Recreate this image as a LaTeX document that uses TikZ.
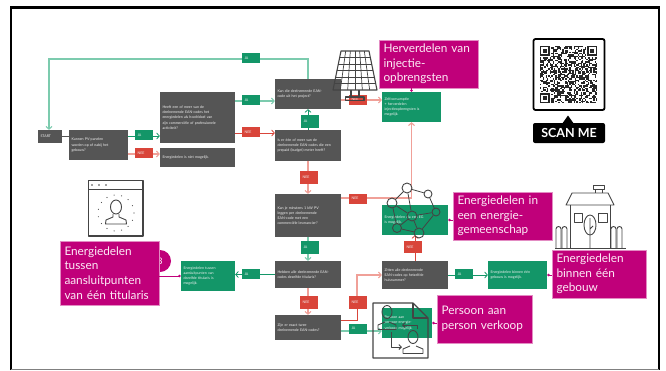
\documentclass[tikz,border=0pt]{standalone}
\usepackage{xcolor}
\usepackage{fontspec}
\setmainfont{Lato}
\usepackage{tikz}
\usetikzlibrary{
    shapes,
    shapes.geometric,
    positioning,
    calc,
    arrows.meta
}
\definecolor{boxgray}{HTML}{555555}
\definecolor{icongray}{HTML}{444444}
\definecolor{jagreen}{HTML}{139668}
\definecolor{jalight}{HTML}{7CCBAE}
\definecolor{neered}{HTML}{D9453A}
\definecolor{neelight}{HTML}{F0A098}
\definecolor{tagmagenta}{HTML}{C0007A}
\tikzset{
  basic/.style = {
      rectangle,
      text=white!90!gray,
      align=left,
      inner sep=2.5pt,
      font=\fontsize{3.6}{5.2}\selectfont
  },
  sized/.style 2 args = {
      text width={(#1-5)*1pt},
      minimum height=#2pt
  },
  question/.style = {
      basic,
      fill=boxgray
  },
  answer/.style = {
      basic,
      fill=jagreen
  },
  tagja/.style = {
      basic,
      fill=jagreen,
      sized={18}{10}
  },
  tagnee/.style = {
      basic,
      fill=neered,
      sized={18}{10}
  },
  callout/.style = {
      rectangle,
      fill=tagmagenta,
      draw=tagmagenta!45,
      line width=0.4pt,
      text=white!92!magenta,
      align=left,
      inner xsep=2.5pt,
      inner ysep=1pt,
      font=\fontsize{11.8}{14.7}\selectfont
  },
  edge/.style = {
      line width=0.8pt,
      -{Straight Barb[length=2.6pt,width=6pt]}
  },
  jaedge/.style = {edge, draw=jagreen},
  jasoft/.style = {edge, draw=jalight, line width=1.1pt},
  neeedge/.style = {edge, draw=neered},
  neesoft/.style = {edge, draw=neelight, line width=1.1pt},
  link/.style = {
      draw=tagmagenta,
      line width=0.9pt,
      -{Circle[length=2.6pt]}
  },
  icon/.style = {
      draw=icongray,
      line width=0.9pt,
      line join=round
  },
  hub/.style = {
      circle,
      draw=icongray,
      line width=0.9pt,
      inner sep=0pt
  }
}
\begin{document}
\begin{tikzpicture}[x=1pt,y=-1pt]
        \useasboundingbox (0,0) rectangle (666,370);
        % Frame
        \draw[black, line width=2.5pt] (11,370) -- (11,7.5) -- (659,7.5) -- (659,370);
        \draw[gray, line width=1pt] (11,369.5) -- (659,369.5);
        % Questions
        \node[question, sized={24}{13}] (start) at (50,136.5) {START};
        \node[question, sized={59}{30}] (panels) at (98.5,145) {Kunnen PV-panelen\\worden op of nabij het\\gebouw?};
        \node[question, sized={75}{51}] (purpose) at (197.5,117.5) {Heeft een of meer van de\\deelnemende EAN-codes het\\energiedelen als hoofddoel van\\zijn commerciële of professionele\\activiteit?};
        \node[question, sized={75}{19}] (nothing) at (197.5,157.5) {Energiedelen is niet mogelijk.};
        \node[question, sized={66}{30}] (project) at (308,94) {Kan die deelnemende EAN-\\code uit het project?};
        \node[question, sized={66}{31}, below of=project, node distance=51.5pt] (prepaid) {Is er één of meer van de\\deelnemende EAN-codes die een\\prepaid (budget) meter heeft?};
        \node[question, sized={66}{43}, below of=prepaid, node distance=70pt] (minimum) {Kan je minstens 1 kW PV\\leggen per deelnemende\\EAN-code met een\\commerciële leverancier?};
        \node[question, sized={66}{27}, below of=minimum, node distance=59pt] (holder) {Hebben alle deelnemende EAN-\\codes dezelfde titularis?};
        \node[question, sized={66}{25}, below of=holder, node distance=53pt] (two) {Zijn er exact twee\\deelnemende EAN-codes?};
        \node[question, sized={66}{28}] (house) at (415,275) {Zitten alle deelnemende\\EAN-codes op hetzelfde\\huisnummer?};
        % Answers
        \node[answer, sized={59}{30}] (selfuse) at (411.5,107) {Zelfconsumptie\\+ herverdelen\\injectieopbrengsten is\\mogelijk.};
        \node[answer, sized={66}{30}] (community) at (415,220) {Energiedelen via een EG\\is mogelijk.};
        \node[answer, sized={59}{28}] (building) at (517.5,275) {Energiedelen binnen één\\gebouw is mogelijk.};
        \node[answer, sized={54}{30}] (holderok) at (208,276) {Energiedelen tussen\\aansluitpunten van\\dezelfde titularis is\\mogelijk.};
        \node[answer, sized={50}{30}] (peer) at (407,323) {Persoon aan\\persoon-energie-\\verkoop mogelijk.};
        \coordinate (topbend) at (49,59);
        \coordinate (toptail) at (308,59);
        \coordinate (redbend) at (357,298);
        % Edges
        \draw[draw=boxgray, line width=0.8pt] (start.east) -- (start.east -| panels.west);
        \draw[jasoft] (toptail |- project.north) -- (toptail) -- (topbend) -- (topbend |- start.north);
        \draw[jaedge] ([yshift=9pt]panels.east) -- ([yshift=9pt]panels.east -| purpose.west);
        \draw[neesoft] ([yshift=-9pt]panels.east) -- ([yshift=-9pt]panels.east -| nothing.west);
        \draw[jasoft] ([yshift=16.5pt]purpose.east) -- ([yshift=16.5pt]purpose.east -| project.west);
        \draw[neeedge] ([yshift=-15.5pt]purpose.east) -- ([yshift=-15.5pt]purpose.east -| prepaid.west);
        \draw[jaedge] (prepaid.north) -- (project.south);
        \draw[neesoft] (prepaid.south) -- (minimum.north);
        \draw[neesoft] ([yshift=-6pt]project.east) -- ([yshift=-6pt]project.east -| selfuse.west);
        \draw[neesoft] ([yshift=17.5pt]minimum.east) -| (selfuse.south);
        \draw[jasoft] (minimum.south) -- (holder.north);
        \draw[jaedge] (holder.west) -- (holder.west -| holderok.east);
        \draw[neesoft] (holder.south) -- (two.north);
        \draw[neeedge] ([yshift=7.5pt]two.east) -| (redbend);
        \draw[neesoft] (redbend) |- (house.west);
        \draw[jasoft] ([yshift=-3.5pt]two.east) -- ([yshift=-3.5pt]two.east -| peer.west);
        \draw[neeedge] (house.north) -- (community.south);
        \draw[jaedge] (house.east) -- (house.east -| building.west);
        % Tags
        \node[tagja] (jatop) at (251,58) {JA};
        \node[tagja] (jaone) at (144,135) {JA};
        \node[tagnee] (neeone) at (144,153) {NEE};
        \node[tagja] (jatwo) at (251,100) {JA};
        \node[tagnee] (neetwo) at (251,132) {NEE};
        \node[tagja, minimum height=13pt] (jathree) at (310,121.5) {JA};
        \node[tagnee, minimum height=13pt] (neethree) at (309,177.5) {NEE};
        \node[tagnee] (neefour) at (358,99.5) {NEE};
        \node[tagnee] (neefive) at (358,198.5) {NEE};
        \node[tagja, minimum height=13pt] (jafour) at (310,247.5) {JA};
        \node[tagnee, minimum height=12pt] (neesix) at (413,247) {NEE};
        \node[tagja] (jafive) at (464,274) {JA};
        \node[tagja] (jasix) at (251,274) {JA};
        \node[tagnee, minimum height=13pt] (neeseven) at (309,302.5) {NEE};
        \node[tagnee, minimum height=13pt] (neeeight) at (358,302.5) {NEE};
        \node[tagja] (jaseven) at (358,328.5) {JA};
        % Solar panel
        \coordinate (sa) at (341,51);
        \coordinate (sb) at (369,51);
        \coordinate (sc) at (333,90);
        \coordinate (sd) at (377,90);
        \foreach \i in {1,...,5} {
            \draw[icon, line width=0.7pt] ($(sa)!\i/6!(sb)$) -- ($(sc)!\i/6!(sd)$);
            \draw[icon, line width=0.7pt] ($(sa)!\i/6!(sc)$) -- ($(sb)!\i/6!(sd)$);
        }
        \draw[icon, line width=1.1pt] (sa) -- (sb) -- (sd) -- (sc) -- cycle;
        \draw[icon, line width=1.1pt] (351,90) -- (351,97) (359,90) -- (359,97);
        \draw[icon, line width=1.1pt] (345.5,97) rectangle (364,100.5);
        % Network
        \node[hub, minimum size=10pt] (neta) at (407,188) {};
        \node[hub, minimum size=10pt] (netb) at (392,203) {};
        \node[hub, minimum size=8pt] (netc) at (428,194) {};
        \node[hub, minimum size=8pt] (netd) at (436,212) {};
        \node[hub, minimum size=10pt] (nete) at (412,216) {};
        \node[hub, minimum size=9pt] (netf) at (397,228) {};
        \node[hub, minimum size=10pt] (netg) at (419,233) {};
        \path[draw=icongray, line width=0.8pt]
        (neta) -- (netb)
        (neta) -- (netc)
        (neta) -- (nete)
        (netb) -- (nete)
        (netb) -- (netf)
        (netc) -- (netd)
        (netd) -- (nete)
        (netd) -- (netg)
        (nete) -- (netf)
        (nete) -- (netg)
        (netf) -- (netg);
        % Document with two persons
        \draw[icon, line width=1.2pt] (373,303) -- (413,303) -- (428,318) -- (428,358) -- (373,358) -- cycle;
        \draw[icon, line width=1.2pt] (413,303) -- (413,318) -- (428,318);
        \draw[icon] (387,312) ellipse (5pt and 6.5pt);
        \draw[icon] (378,329.5) -- (378,325) -- (385,322) (389,322) -- (396,325) -- (396,329.5) -- (378,329.5);
        \draw[icon] (413,337) ellipse (5pt and 6.5pt);
        \draw[icon] (403,353.5) -- (403,349) -- (410,346) (416,346) -- (423,349) -- (423,353.5) -- (403,353.5);
        \draw[icon, -{Straight Barb[length=2.5pt,width=5pt]}] (391,332) -- (391,347) -- (402,347);
        \draw[icon, -{Straight Barb[length=2.5pt,width=5pt]}] (417,329) -- (417,325) -- (402,325);
        % Person window
        \draw[icon, line width=1.2pt] (88.5,180.5) rectangle (143,236);
        \draw[icon] (88.5,189) -- (143,189);
        \foreach \i in {92,99,106} {
            \fill[icongray] (\i,185) circle (0.8pt);
        }
        \foreach \a in {0,24,...,336} {
            \fill[icongray] ($(116,213)+(\a:18pt)$) circle (0.6pt);
        }
        \draw[icon] (116,207) ellipse (5.5pt and 7pt);
        \draw[icon] (113,214) -- (113,217) -- (106,220) -- (105.5,224) -- (126.5,224) -- (126,220) -- (119,217) -- (119,214);
        % House
        \draw[icon] (566,205) -- (572,193) -- (608,193) -- (614,205) -- cycle;
        \draw[icon] (593,185) rectangle (604,189);
        \draw[icon] (595,189) -- (595,193) (602,189) -- (602,193);
        \draw[icon] (570,205) -- (570,248) (610,205) -- (610,248);
        \draw[icon] (574,213) rectangle (582,222);
        \draw[icon] (598,213) rectangle (607,222);
        \draw[icon] (590,225) ellipse (6pt and 10pt);
        \draw[icon] (590,218) -- (590,248) (590,229) -- (593,226);
        \foreach \x in {556,562,611,617} {
            \draw[icon] (\x,248) -- (\x,229) arc (180:0:2.5pt) -- ++(0,19);
        }
        \draw[icon] (555,248) -- (626,248);
        % QR code
        \draw[black, line width=1.8pt, rounded corners=2pt, fill=white] (533.5,39) rectangle (604.5,110);
        \pgfmathsetseed{412}
        \foreach \r in {0,...,40} {
            \foreach \c in {0,...,40} {
                \pgfmathrandominteger{\cell}{0}{1}
                \ifnum\cell=1
                    \fill[black!85] ({540+\c*1.4},{46+\r*1.4}) rectangle ++(1.4,1.4);
                \fi
            }
        }
        \foreach \x/\y in {540/46,587.2/46,540/93.2} {
            \fill[white] ({\x-1},{\y-1}) rectangle ++(11.8,11.8);
            \fill[black!85] (\x,\y) rectangle ++(9.8,9.8);
            \fill[white] ({\x+1.4},{\y+1.4}) rectangle ++(7,7);
            \fill[black!85] ({\x+2.8},{\y+2.8}) rectangle ++(4.2,4.2);
        }
        \node[rectangle, fill=black, rounded corners=2pt, text=white, minimum width=72pt, minimum height=20pt, inner sep=0pt, font=\fontsize{12.5}{13}\selectfont\bfseries] (scan) at (569,133) {SCAN ME};
        \fill[black] (562,124) -- (568,115.5) -- (574,124) -- cycle;
        % Callouts
        \fill[tagmagenta] (160,261) circle (11pt);
        \node[font=\fontsize{9}{9}\selectfont, text=white, inner sep=0pt] (stepmark) at (160,261) {3};
        \node[callout, sized={99}{48}] (redistribute) at (428.5,64) {\hspace{2pt}Herverdelen van\\\hspace{2pt}injectie-\\\hspace{2pt}opbrengsten};
        \node[callout, sized={99}{48}] (communitytag) at (502.5,216) {\hspace{2pt}Energiedelen in\\\hspace{2pt}een energie-\\\hspace{2pt}gemeenschap};
        \node[callout, sized={94}{48}] (buildingtag) at (599,274) {\hspace{2pt}Energiedelen\\\hspace{2pt}binnen één\\\hspace{2pt}gebouw};
        \node[callout, sized={95}{48}] (peertag) at (484.5,319) {\hspace{2pt}Persoon aan\\\hspace{2pt}person verkoop};
        \node[callout, sized={99}{64}] (holdertag) at (109.5,273) {\hspace{2pt}Energiedelen\\\hspace{2pt}tussen\\\hspace{2pt}aansluitpunten\\\hspace{2pt}van één titularis};
        % Links
        \draw[link] (redistribute.south -| selfuse.north) -- (selfuse.north);
        \draw[link] (communitytag.west |- community.east) -- (community.east);
        \draw[link] (buildingtag.west |- building.east) -- (building.east);
        \draw[link] ([yshift=-4pt]peertag.west) -- ([yshift=-4pt]peertag.west -| peer.east);
        \draw[link] (holdertag.east |- holderok.west) -- (holderok.west);
    \end{tikzpicture}
\end{document}
